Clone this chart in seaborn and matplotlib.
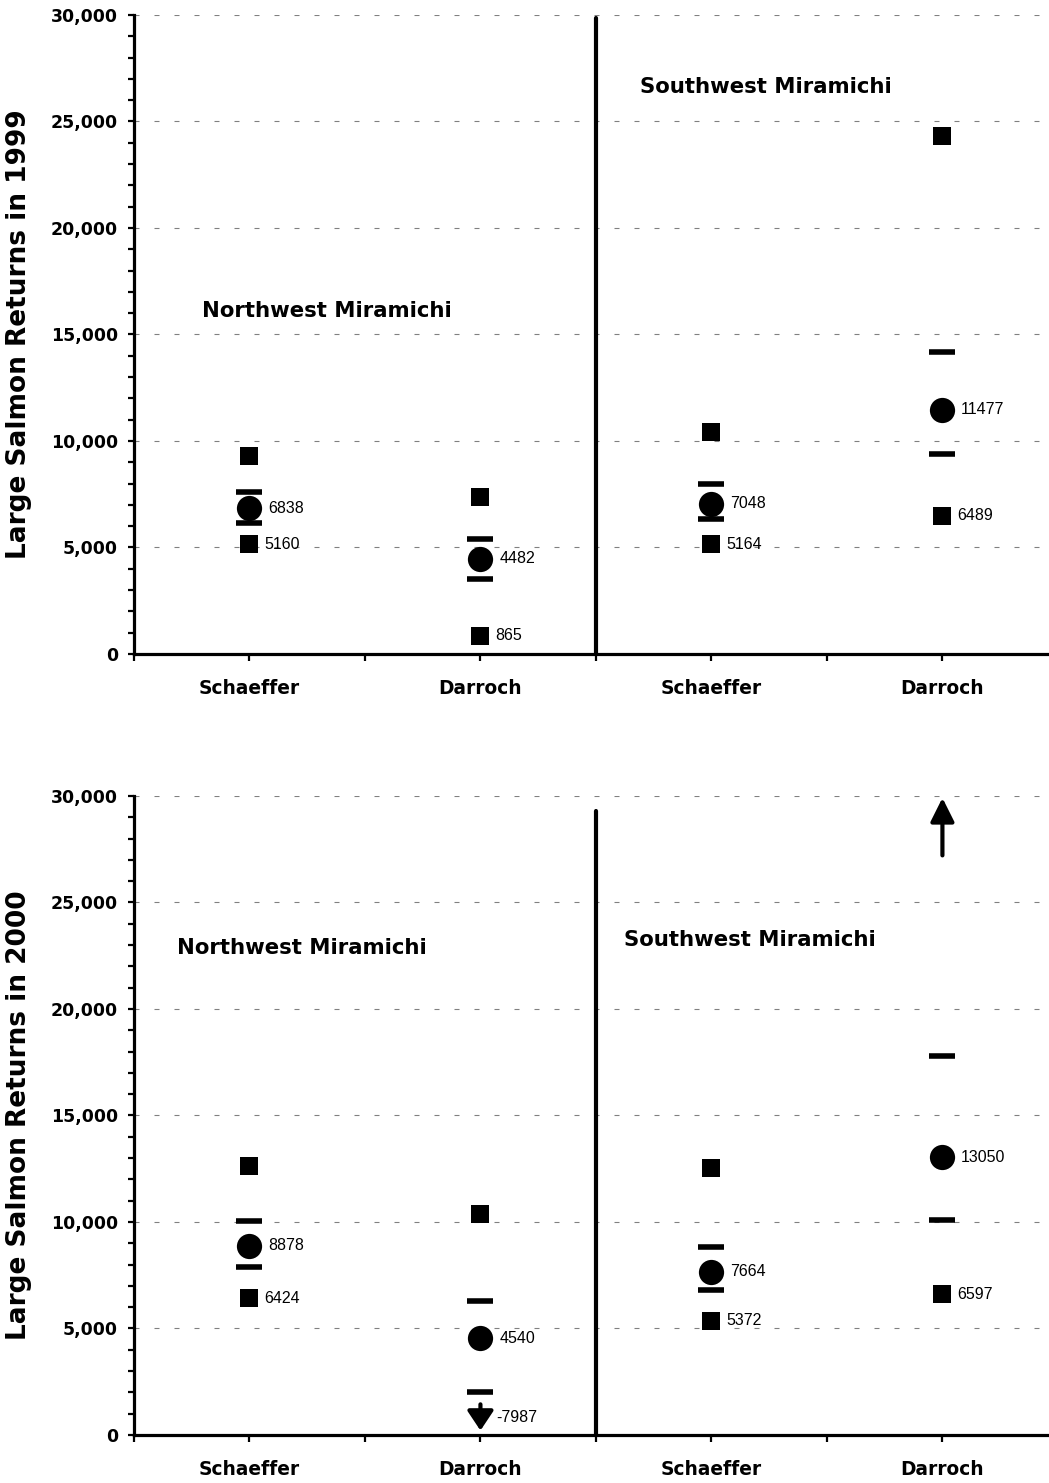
import numpy as np
import pandas as pd
import matplotlib
matplotlib.use("Agg")
import matplotlib.pyplot as plt
from matplotlib.ticker import MultipleLocator, FuncFormatter, FixedLocator
import seaborn as sns

sns.set_theme(style="ticks")
plt.rcParams['font.family'] = ['DejaVu Sans']
for key in ("text.color", "axes.labelcolor", "xtick.color", "ytick.color",
            "axes.edgecolor"):
    plt.rcParams[key] = "black"

LABEL_FONT = ['Liberation Sans', 'DejaVu Sans']

# Sites along the x axis: two methods for each branch of the river
categories = ["Schaeffer", "Darroch", "Schaeffer", "Darroch"]
rivers = ["Northwest Miramichi", "Southwest Miramichi"]
years = [1999, 2000]

# 1999 estimates, 50% interval (bars) and 95% interval (squares)
est_1999 = [6838, 4482, 7048, 11477]
ci_low_1999 = [6150, 3520, 6340, 9390]
ci_high_1999 = [7600, 5400, 7980, 14200]
range_low_1999 = [5160, 865, 5164, 6489]
range_high_1999 = [9300, 7370, 10420, 24300]

# 2000 estimates; values beyond the axis are shown with arrows
est_2000 = [8878, 4540, 7664, 13050]
ci_low_2000 = [7890, 2020, 6800, 10090]
ci_high_2000 = [10050, 6300, 8830, 17800]
range_low_2000 = [6424, -7987, 5372, 6597]
range_high_2000 = [12630, 10380, 12540, np.inf]

# river name positions (x in site units, y in fish)
river_label_x = {1999: [1.67, 5.47], 2000: [1.45, 5.33]}
river_label_y = {1999: [16100, 26600], 2000: [22860, 23240]}

YMIN, YMAX = 0, 30000

data = {
    1999: (est_1999, ci_low_1999, ci_high_1999, range_low_1999, range_high_1999),
    2000: (est_2000, ci_low_2000, ci_high_2000, range_low_2000, range_high_2000),
}

fig = plt.figure(figsize=(10.49, 14.83), dpi=100)
axes_pos = {1999: [0.1277, 0.5590, 0.8808, 0.4309],
            2000: [0.1277, 0.03237, 0.8808, 0.4309]}
divider_top = {1999: 0.995, 2000: 0.977}


def value_label(ax, text, x, y, dx):
    ax.annotate(text, xy=(x, y), xytext=(dx, 0), textcoords="offset points",
                ha="left", va="center", fontsize=11.5, family=LABEL_FONT,
                color="black")


def arrow(ax, x, tail, tip, style):
    ax.annotate("", xy=(x, tip), xytext=(x, tail),
                arrowprops=dict(arrowstyle=style, lw=3, color="black",
                                mutation_scale=36, shrinkA=0, shrinkB=0),
                annotation_clip=False)


def draw_panel(ax, year):
    est, ci_lo, ci_hi, r_lo, r_hi = data[year]
    xs = [2 * i + 1 for i in range(len(categories))]
    df = pd.DataFrame({"x": xs, "est": est, "ci_lo": ci_lo, "ci_hi": ci_hi,
                       "r_lo": r_lo, "r_hi": r_hi})

    # interval bounds shown as squares when inside the axis
    sq = pd.concat([
        df[["x", "r_lo"]].rename(columns={"r_lo": "v"}),
        df[["x", "r_hi"]].rename(columns={"r_hi": "v"}),
    ])
    sq_in = sq[(sq.v >= YMIN) & (sq.v <= YMAX)]
    sns.scatterplot(data=sq_in, x="x", y="v", marker="s", s=150,
                    color="black", edgecolor="black", linewidth=0, ax=ax,
                    legend=False, zorder=3)

    # 50% interval bars
    bars = pd.concat([
        df[["x", "ci_lo"]].rename(columns={"ci_lo": "v"}),
        df[["x", "ci_hi"]].rename(columns={"ci_hi": "v"}),
    ])
    ax.plot(bars.x, bars.v, linestyle="none", marker="_", ms=19, mew=4,
            color="black", zorder=3)

    # point estimates
    sns.scatterplot(data=df, x="x", y="est", marker="o", s=330,
                    color="black", edgecolor="black", linewidth=0, ax=ax,
                    legend=False, zorder=4)

    span = YMAX - YMIN
    for _, row in df.iterrows():
        value_label(ax, f"{int(row.est)}", row.x, row.est, 13.5)
        lo = row.r_lo
        if lo < YMIN:
            tail, tip = YMIN + 0.048 * span, YMIN + 0.007 * span
            arrow(ax, row.x, tail, tip, "-|>,head_length=0.33,head_width=0.22")
            value_label(ax, f"{int(lo)}", row.x, (tail + tip) / 2, 11.5)
        else:
            value_label(ax, f"{int(lo)}", row.x, lo, 11)
        if row.r_hi > YMAX:
            arrow(ax, row.x, YMAX - 0.093 * span, YMAX - 0.003 * span, "-|>")

    # divider between the two rivers
    ax.axvline(4, ymin=0, ymax=divider_top[year], color="black", lw=3, zorder=2)

    for name, tx, ty in zip(rivers, river_label_x[year], river_label_y[year]):
        ax.text(tx, ty, name, ha="center", va="center", fontsize=15.3,
                fontweight="bold")

    ax.set_xlim(0, 8)
    ax.set_ylim(YMIN, YMAX)
    ax.xaxis.set_major_locator(FixedLocator(xs))
    ax.xaxis.set_minor_locator(FixedLocator([0, 2, 4, 6, 8]))
    ax.set_xticklabels(categories, fontsize=13.4, fontweight="bold")
    ax.yaxis.set_major_locator(MultipleLocator(5000))
    ax.yaxis.set_minor_locator(MultipleLocator(1000))
    ax.yaxis.set_major_formatter(FuncFormatter(lambda v, p: f"{int(v):,}"))
    for lab in ax.get_yticklabels():
        lab.set_fontweight("bold")
    ax.tick_params(axis="x", which="both", direction="out", length=5,
                   width=1.6, pad=13, bottom=True)
    ax.tick_params(axis="y", which="major", direction="out", length=4.5,
                   width=1.6, pad=7, left=True, labelsize=12.5)
    ax.tick_params(axis="y", which="minor", direction="out", length=4,
                   width=1.6, left=True)
    ax.set_xlabel("")
    ax.set_ylabel(f"Large Salmon Returns in {year}", fontsize=19,
                  fontweight="bold")
    ax.yaxis.set_label_coords(-0.110, 0.5)

    ax.yaxis.grid(True, which="major", color="#808080", lw=0.8,
                  linestyle=(0, (4.5, 13.5)))
    ax.set_axisbelow(True)
    for side in ("top", "right"):
        ax.spines[side].set_visible(False)
    for side in ("left", "bottom"):
        ax.spines[side].set_linewidth(2.3)
        ax.spines[side].set_color("black")


for year in years:
    ax = fig.add_axes(axes_pos[year])
    draw_panel(ax, year)

fig.savefig("out.png", dpi=100)
